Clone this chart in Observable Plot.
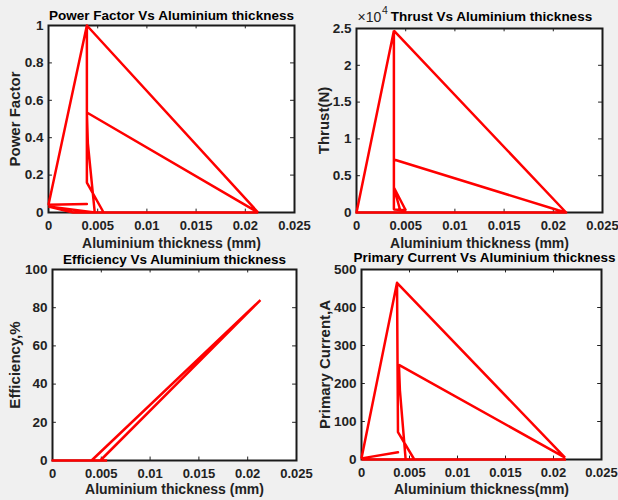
<!DOCTYPE html>
<html>
<head>
<meta charset="utf-8">
<script src="https://cdn.jsdelivr.net/npm/d3@7"></script>
<script src="https://cdn.jsdelivr.net/npm/@observablehq/plot@0.6"></script>
<style>
html, body { margin: 0; padding: 0; background: #f0f0f0; }
#fig { position: relative; width: 618px; height: 500px; background: #f0f0f0; overflow: hidden; }
#fig .cell { position: absolute; }
#fig svg { overflow: visible; }
</style>
</head>
<body>
<div id="fig"></div>
<script>
// ---- shared axis ----
const xTicks = [0, 0.005, 0.01, 0.015, 0.02, 0.025];
const xTickLabels = ["0", "0.005", "0.01", "0.015", "0.02", "0.025"];

// ---- Power factor ----
const pfThickness = [0.0039, 0.0000, 0.0039, 0.0213, 0.0039, 0.0040, 0.0047, 0.0000, 0.0025, 0.0213, 0.0056, 0.0039, 0.0039];
const pfValues    = [0.045, 0.042, 1.000, 0.000, 0.535, 0.370, 0.000, 0.032, 0.000, 0.000, 0.000, 0.160, 1.000];
const pfTicks = [0, 0.2, 0.4, 0.6, 0.8, 1];
const pfTickLabels = ["0", "0.2", "0.4", "0.6", "0.8", "1"];

// ---- Thrust (N) ----
const thrustThickness = [0.0000, 0.0038, 0.0213, 0.0205, 0.0038, 0.0038, 0.0038, 0.0050, 0.0038, 0.0045, 0.0000, 0.0213];
const thrustValues    = [0, 24700, 0, 300, 7200, 24700, 400, 300, 3400, 0, 0, 0];
const thrustTicks = [0, 5000, 10000, 15000, 20000, 25000];
const thrustTickLabels = ["0", "0.5", "1", "1.5", "2", "2.5"];

// ---- Efficiency (%) ----
const effThickness = [0.0000, 0.0056, 0.0049, 0.0213, 0.0040, 0.0000];
const effValues    = [0, 0, 0, 84, 0, 0];
const effTicks = [0, 20, 40, 60, 80, 100];
const effTickLabels = ["0", "20", "40", "60", "80", "100"];

// ---- Primary current (A) ----
const pcThickness = [0.0038, 0.0000, 0.0037, 0.0212, 0.0039, 0.0040, 0.0046, 0.0000, 0.0213, 0.0055, 0.0038, 0.0037];
const pcValues    = [19, 3, 465, 5, 249, 182, 0, 0, 0, 0, 72, 465];
const pcTicks = [0, 100, 200, 300, 400, 500];
const pcTickLabels = ["0", "100", "200", "300", "400", "500"];

const FONT = "'Liberation Sans', Arial, Helvetica, sans-serif";
const INK = "#222222";

function subplot(cfg) {
  const xs = cfg.xs, ys = cfg.ys;
  const data = xs.map((x, i) => ({x, y: ys[i]}));
  const [y0, y1] = cfg.yDomain;
  const span = y1 - y0;
  const tyLen = 0.018 * span;
  const txLen = 0.016 * 0.025;
  const marks = [
    Plot.frame({fill: "white", stroke: null}),
    Plot.ruleX(xTicks, {x: d => d, y1: y0, y2: y0 + tyLen, stroke: INK, strokeWidth: 1}),
    Plot.ruleX(xTicks, {x: d => d, y1: y1, y2: y1 - tyLen, stroke: INK, strokeWidth: 1}),
    Plot.ruleY(cfg.yTicks, {y: d => d, x1: 0, x2: txLen, stroke: INK, strokeWidth: 1}),
    Plot.ruleY(cfg.yTicks, {y: d => d, x1: 0.025, x2: 0.025 - txLen, stroke: INK, strokeWidth: 1}),
    Plot.frame({stroke: "#1a1a1a", strokeWidth: 2}),
    Plot.line(data, {x: "x", y: "y", stroke: "#ff0000", strokeWidth: 2.5, strokeLinejoin: "miter"}),
    Plot.axisX(xTicks, {tickSize: 0, tickPadding: 8, tickFormat: d => xTickLabels[xTicks.indexOf(d)],
      fontSize: 13, fontWeight: "bold", fill: INK, label: null}),
    Plot.axisY(cfg.yTicks, {tickSize: 0, tickPadding: 5, tickFormat: d => cfg.yTickLabels[cfg.yTicks.indexOf(d)],
      fontSize: 13.5, fontWeight: "bold", fill: INK, label: null}),
    Plot.text([cfg.title], {frameAnchor: "top", textAnchor: "middle", dx: cfg.titleDx || 0, dy: cfg.titleDy, lineAnchor: "middle",
      fontSize: 13.5, fontWeight: "bold", fill: "#000"}),
    Plot.text([cfg.xLabel], {frameAnchor: "bottom", textAnchor: "middle", dy: cfg.xLabelDy, lineAnchor: "middle",
      fontSize: 14, fontWeight: "bold", fill: INK}),
    Plot.text([cfg.yLabel], {frameAnchor: "left", textAnchor: "middle", dx: cfg.yLabelDx, rotate: -90, lineAnchor: "middle",
      fontSize: 15, fontWeight: "bold", fill: INK})
  ];
  if (cfg.exponent) {
    marks.push(
      Plot.text([cfg.exponent.base], {frameAnchor: "top-left", textAnchor: "start", dx: 1, dy: -11, lineAnchor: "middle",
        fontSize: 14, fill: INK}),
      Plot.text([cfg.exponent.power], {frameAnchor: "top-left", textAnchor: "start", dx: 25.5, dy: -18, lineAnchor: "middle",
        fontSize: 10.5, fill: INK})
    );
  }
  const svg = Plot.plot({
    width: cfg.w, height: cfg.h,
    marginLeft: cfg.m[0], marginRight: cfg.m[1], marginTop: cfg.m[2], marginBottom: cfg.m[3],
    style: {background: "transparent", overflow: "visible", fontFamily: FONT},
    x: {domain: [0, 0.025], axis: null},
    y: {domain: cfg.yDomain, axis: null},
    marks
  });
  const cell = document.createElement("div");
  cell.className = "cell";
  cell.style.left = cfg.left + "px";
  cell.style.top = cfg.top + "px";
  cell.appendChild(svg);
  document.getElementById("fig").appendChild(cell);
}

subplot({left: 0, top: 0, w: 310, h: 250, m: [48, 16, 25, 38],
  xs: pfThickness, ys: pfValues, yDomain: [0, 1], yTicks: pfTicks, yTickLabels: pfTickLabels,
  title: "Power Factor Vs Aluminium thickness", titleDy: -10,
  xLabel: "Aluminium thickness (mm)", xLabelDy: 31,
  yLabel: "Power Factor", yLabelDx: -33});

subplot({left: 308, top: 0, w: 310, h: 250, m: [48, 16, 28, 38],
  xs: thrustThickness, ys: thrustValues, yDomain: [0, 25000], yTicks: thrustTicks, yTickLabels: thrustTickLabels,
  title: "Thrust Vs Aluminium thickness", titleDx: 12, titleDy: -12,
  xLabel: "Aluminium thickness (mm)", xLabelDy: 31,
  yLabel: "Thrust(N)", yLabelDx: -32,
  exponent: {base: "×10", power: "4"}});

subplot({left: 0, top: 250, w: 310, h: 250, m: [52, 14, 19, 40],
  xs: effThickness, ys: effValues, yDomain: [0, 100], yTicks: effTicks, yTickLabels: effTickLabels,
  title: "Efficiency Vs Aluminium thickness", titleDy: -10,
  xLabel: "Aluminium thickness (mm)", xLabelDy: 29,
  yLabel: "Efficiency,%", yLabelDx: -37});

subplot({left: 308, top: 250, w: 310, h: 250, m: [53, 17, 19, 41],
  xs: pcThickness, ys: pcValues, yDomain: [0, 500], yTicks: pcTicks, yTickLabels: pcTickLabels,
  title: "Primary Current Vs Aluminium thickness", titleDx: 3, titleDy: -12,
  xLabel: "Aluminium thickness(mm)", xLabelDy: 30,
  yLabel: "Primary Current,A", yLabelDx: -36});
</script>
</body>
</html>
